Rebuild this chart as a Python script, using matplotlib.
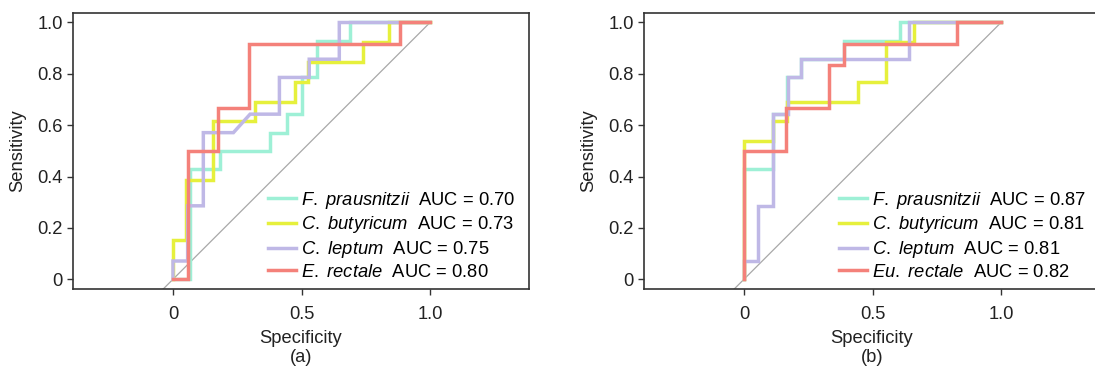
import matplotlib.pyplot as plt

plt.rcParams["font.family"] = ["Liberation Sans", "DejaVu Sans"]
plt.rcParams["mathtext.fontset"] = "custom"
plt.rcParams["mathtext.rm"] = "Liberation Sans"
plt.rcParams["mathtext.it"] = "Liberation Sans:italic"

# colours per marker (legend order)
colors = ["#9ef0d6", "#e6f03c", "#bfb8e6", "#f4817a"]

# panel (a) ROC step curves
a_species = [(r"F.", "prausnitzii"), ("C.", "butyricum"), ("C.", "leptum"), ("E.", "rectale")]
a_auc = [0.70, 0.73, 0.75, 0.80]
a_fp_x = [0, 0.066, 0.066, 0.183, 0.183, 0.377, 0.377, 0.442, 0.442, 0.503, 0.503, 0.559, 0.559, 0.689, 0.689, 1.0]
a_fp_y = [0, 0, 0.429, 0.429, 0.5, 0.5, 0.571, 0.571, 0.643, 0.643, 0.786, 0.786, 0.929, 0.929, 1.0, 1.0]
a_cb_x = [0, 0, 0.05, 0.05, 0.156, 0.156, 0.319, 0.319, 0.475, 0.475, 0.525, 0.525, 0.738, 0.738, 0.842, 0.842, 1.0]
a_cb_y = [0, 0.154, 0.154, 0.385, 0.385, 0.615, 0.615, 0.692, 0.692, 0.769, 0.769, 0.846, 0.846, 0.923, 0.923, 1.0, 1.0]
a_cl_x = [0, 0, 0.057, 0.057, 0.118, 0.118, 0.235, 0.3, 0.414, 0.414, 0.53, 0.53, 0.647, 0.647, 1.0]
a_cl_y = [0, 0.071, 0.071, 0.286, 0.286, 0.571, 0.571, 0.643, 0.643, 0.786, 0.786, 0.857, 0.857, 1.0, 1.0]
a_er_x = [0, 0.059, 0.059, 0.176, 0.176, 0.294, 0.294, 0.882, 0.882, 1.0]
a_er_y = [0, 0, 0.5, 0.5, 0.667, 0.667, 0.917, 0.917, 1.0, 1.0]

# panel (b) ROC step curves
b_species = [("F.", "prausnitzii"), ("C.", "butyricum"), ("C.", "leptum"), ("Eu.", "rectale")]
b_auc = [0.87, 0.81, 0.81, 0.82]
b_fp_x = [0, 0, 0.111, 0.111, 0.167, 0.167, 0.222, 0.222, 0.389, 0.389, 0.607, 0.607, 1.0]
b_fp_y = [0, 0.429, 0.429, 0.643, 0.643, 0.786, 0.786, 0.857, 0.857, 0.929, 0.929, 1.0, 1.0]
b_cb_x = [0, 0, 0.111, 0.111, 0.167, 0.167, 0.443, 0.443, 0.553, 0.553, 0.663, 0.663, 1.0]
b_cb_y = [0, 0.538, 0.538, 0.615, 0.615, 0.692, 0.692, 0.769, 0.769, 0.923, 0.923, 1.0, 1.0]
b_cl_x = [0, 0, 0.056, 0.056, 0.114, 0.114, 0.17, 0.17, 0.222, 0.222, 0.643, 0.643, 1.0]
b_cl_y = [0, 0.071, 0.071, 0.286, 0.286, 0.643, 0.643, 0.786, 0.786, 0.857, 0.857, 1.0, 1.0]
b_er_x = [0, 0, 0.165, 0.165, 0.331, 0.331, 0.389, 0.389, 0.828, 0.828, 1.0]
b_er_y = [0, 0.5, 0.5, 0.667, 0.667, 0.833, 0.833, 0.917, 0.917, 1.0, 1.0]

xticks = [0, 0.5, 1.0]
xtick_labels = ["0", "0.5", "1.0"]
yticks = [0, 0.2, 0.4, 0.6, 0.8, 1.0]
ytick_labels = ["0", "0.2", "0.4", "0.6", "0.8", "1.0"]

W, H = 1095, 371
fig = plt.figure(figsize=(W / 100, H / 100), dpi=100)

panels = [
    (73, "(a)", a_species, a_auc, [(a_fp_x, a_fp_y), (a_cb_x, a_cb_y), (a_cl_x, a_cl_y), (a_er_x, a_er_y)]),
    (644, "(b)", b_species, b_auc, [(b_fp_x, b_fp_y), (b_cb_x, b_cb_y), (b_cl_x, b_cl_y), (b_er_x, b_er_y)]),
]

fs = 13.2
for left, tag, species, auc, curves in panels:
    ax = fig.add_axes([left / W, (H - 289) / H, 456 / W, 276 / H])
    ax.plot([-0.05, 1], [-0.05, 1], color="#a8a8a8", lw=0.9, zorder=1)
    for (xs, ys), c, (g, s), a in zip(curves, colors, species, auc):
        label = rf"$\it{{{g}}}$ $\it{{{s}}}$  AUC = {a:.2f}"
        ax.plot(xs, ys, color=c, lw=2.5, solid_joinstyle="miter", label=label, zorder=2)
    ax.set_xlim(-0.389, 1.385)
    ax.set_ylim(-0.038, 1.037)
    ax.set_xticks(xticks, xtick_labels)
    ax.set_yticks(yticks, ytick_labels)
    ax.tick_params(axis="x", pad=8)
    ax.tick_params(labelsize=fs, length=4, width=1, color="#333333", labelcolor="#222222")
    for sp in ax.spines.values():
        sp.set_color("#333333")
        sp.set_linewidth(1.2)
    ax.set_xlabel("Specificity", fontsize=fs, color="#222222", labelpad=5)
    ax.set_ylabel("Sensitivity", fontsize=fs, color="#222222", labelpad=8)
    ax.legend(loc="lower left", bbox_to_anchor=(0.428, 0.03), frameon=False, fontsize=fs,
              handlelength=1.5, handletextpad=0.3, labelspacing=0.2, borderpad=0, borderaxespad=0)
    fig.text((left + 228) / W, (H - 358) / H, tag, ha="center", va="center", fontsize=fs, color="#222222")

fig.savefig("out.png", dpi=100)
